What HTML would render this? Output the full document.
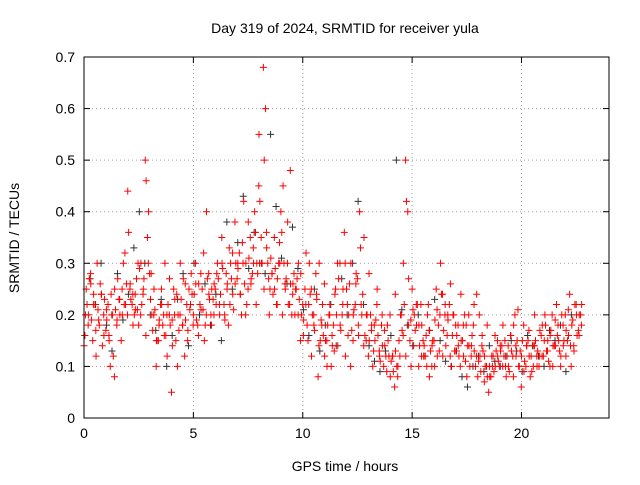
<!DOCTYPE html>
<html><head><meta charset="utf-8"><style>
body{margin:0;background:#fff;font-family:"Liberation Sans",sans-serif;}
svg text{font-family:"Liberation Sans",sans-serif;font-size:14px;fill:#000}
</style></head><body>
<svg id="chart" width="640" height="480">
<text x="345" y="33" text-anchor="middle">Day 319 of 2024, SRMTID for receiver yula</text>
<text x="345" y="471" text-anchor="middle">GPS time / hours</text>
<text transform="translate(19,238) rotate(-90)" text-anchor="middle">SRMTID / TECUs</text>
<g id="grid"></g>
<g id="ticks"></g>
<g id="marks"></g>
<rect x="84" y="57" width="525" height="361" fill="none" stroke="#000"/>
</svg>
<script>
const xTicks=[0,5,10,15,20];
const yTicks=[0,0.1,0.2,0.3,0.4,0.5,0.6,0.7];
const yTickLabels=["0","0.1","0.2","0.3","0.4","0.5","0.6","0.7"];
const startHour=0.0;
const stepHour=0.1;
const srmtidRed=[0.14,0.25,0.2,0.28,0.15,0.22,0.3,0.18,0.24,0.2,
0.17,0.22,0.1,0.2,0.25,0.18,0.23,0.15,0.3,0.22,
0.44,0.25,0.22,0.2,0.27,0.18,0.3,0.24,0.5,0.35,
0.28,0.2,0.25,0.1,0.15,0.22,0.18,0.3,0.12,0.2,
0.05,0.25,0.15,0.2,0.3,0.18,0.12,0.22,0.25,0.28,
0.2,0.3,0.18,0.22,0.25,0.15,0.4,0.28,0.2,0.23,
0.25,0.3,0.2,0.35,0.22,0.28,0.18,0.3,0.24,0.38,
0.27,0.32,0.2,0.42,0.3,0.25,0.35,0.28,0.4,0.3,
0.55,0.35,0.68,0.6,0.3,0.25,0.28,0.35,0.22,0.3,
0.4,0.45,0.25,0.3,0.22,0.2,0.28,0.25,0.3,0.15,
0.22,0.25,0.18,0.3,0.12,0.2,0.28,0.08,0.15,0.22,
0.12,0.15,0.2,0.1,0.18,0.25,0.14,0.3,0.2,0.36,
0.25,0.2,0.3,0.15,0.22,0.27,0.4,0.2,0.35,0.15,
0.12,0.2,0.1,0.15,0.25,0.13,0.18,0.1,0.12,0.15,
0.08,0.12,0.06,0.1,0.15,0.2,0.3,0.5,0.4,0.15,
0.25,0.2,0.18,0.1,0.22,0.15,0.12,0.2,0.17,0.1,
0.15,0.25,0.18,0.3,0.12,0.2,0.16,0.22,0.1,0.2,
0.13,0.18,0.1,0.15,0.2,0.08,0.14,0.12,0.18,0.1,
0.08,0.12,0.16,0.07,0.1,0.05,0.08,0.12,0.1,0.15,
0.1,0.14,0.12,0.08,0.1,0.16,0.12,0.2,0.15,0.1,
0.12,0.18,0.1,0.15,0.08,0.14,0.2,0.12,0.1,0.16,
0.12,0.18,0.15,0.1,0.2,0.14,0.22,0.15,0.12,0.18,
0.2,0.15,0.24,0.18,0.13,0.22,0.17,0.2];
const srmtidRed2=[0.2,0.18,0.26,0.22,0.12,0.19,0.24,0.16,0.21,0.15,
0.2,0.08,0.19,0.23,0.2,0.32,0.2,0.26,0.24,0.21,
0.3,0.2,0.25,0.16,0.4,0.28,0.2,0.15,0.18,0.22,
0.16,0.2,0.27,0.19,0.23,0.1,0.2,0.18,0.26,0.17,
0.22,0.18,0.26,0.16,0.21,0.32,0.2,0.24,0.18,0.26,
0.28,0.22,0.3,0.2,0.26,0.22,0.32,0.26,0.3,0.24,
0.3,0.2,0.38,0.26,0.3,0.22,0.45,0.3,0.25,0.33,
0.2,0.28,0.25,0.22,0.3,0.2,0.26,0.38,0.48,0.26,
0.25,0.2,0.28,0.16,0.32,0.22,0.25,0.18,0.24,0.3,
0.18,0.26,0.1,0.2,0.14,0.24,0.3,0.18,0.22,0.12,
0.16,0.1,0.2,0.26,0.16,0.22,0.14,0.2,0.28,0.18,
0.18,0.22,0.12,0.2,0.14,0.18,0.2,0.12,0.24,0.1,
0.2,0.16,0.12,0.18,0.1,0.14,0.22,0.18,0.12,0.14,
0.1,0.08,0.14,0.1,0.12,0.2,0.24,0.22,0.2,0.26,
0.2,0.18,0.14,0.24,0.12,0.18,0.2,0.14,0.22,0.24,
0.2,0.14,0.12,0.18,0.08,0.1,0.16,0.12,0.14,0.18,
0.1,0.14,0.16,0.08,0.12,0.1,0.06,0.09,0.14,0.12,
0.09,0.14,0.1,0.12,0.18,0.2,0.13,0.16,0.1,0.14,
0.18,0.1,0.14,0.12,0.16,0.1,0.14,0.2,0.16,0.22];
const srmtidRed3=[0.16,0.22,0.27,0.19,0.24,0.17,0.21,0.26,0.14,0.23,
0.19,0.16,0.24,0.12,0.21,0.27,0.2,0.25,0.22,0.26,
0.36,0.23,0.18,0.24,0.21,0.29,0.22,0.27,0.46,0.3,
0.23,0.17,0.21,0.15,0.19,0.25,0.2,0.16,0.22,0.18,
0.14,0.2,0.24,0.17,0.23,0.27,0.19,0.15,0.21,0.24,
0.24,0.19,0.26,0.28,0.21,0.18,0.27,0.23,0.25,0.2,
0.22,0.27,0.24,0.29,0.19,0.25,0.33,0.27,0.21,0.3,
0.29,0.24,0.34,0.26,0.22,0.31,0.27,0.33,0.36,0.28,
0.42,0.3,0.5,0.36,0.27,0.31,0.24,0.29,0.27,0.34,
0.36,0.3,0.27,0.22,0.26,0.24,0.2,0.27,0.23,0.2,
0.19,0.22,0.15,0.24,0.2,0.17,0.23,0.14,0.19,0.16,
0.15,0.18,0.22,0.16,0.13,0.2,0.27,0.17,0.25,0.3,
0.22,0.26,0.17,0.21,0.28,0.18,0.33,0.24,0.16,0.2,
0.15,0.17,0.13,0.19,0.16,0.11,0.14,0.17,0.09,0.12,
0.11,0.09,0.13,0.08,0.12,0.17,0.22,0.42,0.27,0.19,
0.21,0.17,0.22,0.14,0.18,0.12,0.16,0.22,0.13,0.15,
0.19,0.21,0.13,0.24,0.17,0.14,0.19,0.12,0.16,0.13,
0.16,0.12,0.15,0.18,0.11,0.14,0.1,0.16,0.13,0.12,
0.11,0.09,0.13,0.1,0.08,0.1,0.12,0.09,0.13,0.11,
0.13,0.1,0.15,0.12,0.09,0.13,0.18,0.14,0.21,0.13,
0.15,0.11,0.14,0.17,0.12,0.1,0.15,0.13,0.17,0.12,
0.15,0.13,0.11,0.17,0.14,0.19,0.16,0.13,0.2,0.15,
0.17,0.21,0.14,0.19,0.22,0.16,0.2,0.18];
const srmtidBlack=[0.16,0.27,0.22,0.3,0.18,0.13,0.28,0.19,0.24,0.33,0.4,0.3,0.2,0.17,0.23,0.1,
0.16,0.23,0.28,0.14,0.3,0.2,0.26,0.18,0.24,0.15,0.38,0.25,0.34,0.43,0.29,0.36,0.3,0.28,
0.55,0.41,0.31,0.26,0.37,0.29,0.21,0.16,0.25,0.13,0.18,0.22,0.14,0.27,0.2,0.3,0.42,0.22,
0.14,0.11,0.09,0.13,0.16,0.5,0.21,0.18,0.14,0.2,0.12,0.17,0.23,0.15,0.11,0.1,0.13,0.08,
0.06,0.1,0.12,0.09,0.14,0.11,0.1,0.12,0.15,0.13,0.09,0.16,0.14,0.12,0.1,0.17,0.15,0.18,0.09,0.2];
const NS="http://www.w3.org/2000/svg";
const X0=84,X1=609,Y0=418,Y1=57,XMAX=24,YMAX=0.7;
function xs(h){return X0+(X1-X0)*h/XMAX;}
function ys(v){return Y0-(Y0-Y1)*v/YMAX;}
function mk(tag,attrs,parent){const e=document.createElementNS(NS,tag);for(const k in attrs)e.setAttribute(k,attrs[k]);parent.appendChild(e);return e;}
const grid=document.getElementById('grid'),ticks=document.getElementById('ticks'),marks=document.getElementById('marks');
xTicks.forEach(t=>{
 if(t>0){const g=mk('line',{x1:xs(t),x2:xs(t),y1:Y0,y2:Y1,stroke:'#a0a0a0','stroke-dasharray':'1,3'},grid);
 
 }
 mk('line',{x1:xs(t),x2:xs(t),y1:Y0,y2:Y0-6,stroke:'#000'},ticks);
 mk('line',{x1:xs(t),x2:xs(t),y1:Y1,y2:Y1+6,stroke:'#000'},ticks);
 const l=mk('text',{x:xs(t),y:Y0+20,'text-anchor':'middle'},ticks);l.textContent=t;
 
 
});
yTicks.forEach((t,i)=>{
 if(t>0&&t<YMAX){const g=mk('line',{x1:X0,x2:X1,y1:ys(t),y2:ys(t),stroke:'#a0a0a0','stroke-dasharray':'1,3'},grid);
 
 }
 mk('line',{x1:X0,x2:X0+6,y1:ys(t),y2:ys(t),stroke:'#000'},ticks);
 mk('line',{x1:X1,x2:X1-6,y1:ys(t),y2:ys(t),stroke:'#000'},ticks);
 const l=mk('text',{x:X0-9,y:ys(t)+5,'text-anchor':'end'},ticks);l.textContent=yTickLabels[i];
 
 
});
function plus(h,v,color){
 const x=xs(h),y=ys(v);
 const p=mk('path',{d:`M${x-3.5},${y}H${x+3.5}M${x},${y-3.5}V${y+3.5}`,stroke:color,'stroke-width':1},marks);
 
 
}
srmtidBlack.forEach((v,i)=>plus(startHour+0.03+i*0.25,v,'#333'));
srmtidRed.forEach((v,i)=>plus(startHour+i*stepHour,v,'#ff0000'));
srmtidRed2.forEach((v,i)=>plus(startHour+0.07+i*0.12,v,'#ff0000'));
srmtidRed3.forEach((v,i)=>plus(startHour+0.04+i*stepHour,v,'#ff0000'));
</script>
</body></html>
